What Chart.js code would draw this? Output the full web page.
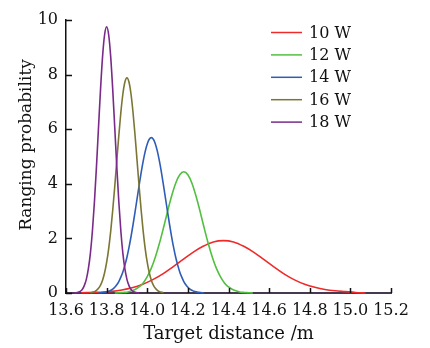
<!DOCTYPE html>
<html><head><meta charset="utf-8">
<script src="https://cdn.jsdelivr.net/npm/chart.js@4.4.1/dist/chart.umd.min.js"></script>
<style>html,body{margin:0;padding:0;background:#fff;}</style>
</head><body>
<canvas id="c" width="430" height="348"></canvas>
<script>
// ---- data ----
const seriesNames = ['10 W', '12 W', '14 W', '16 W', '18 W'];
const xTicks = [13.6, 13.8, 14.0, 14.2, 14.4, 14.6, 14.8, 15.0, 15.2];
const yTicks = [0, 2, 4, 6, 8, 10];

const redX = [13.675,13.725,13.775,13.825,13.875,13.925,13.975,14.025,14.075,14.125,14.175,14.225,14.275,14.325,14.375,14.425,14.475,14.525,14.575,14.625,14.675,14.725,14.775,14.825,14.875,14.925,14.975,15.025,15.075];
const redY = [0.01,0.02,0.03,0.06,0.11,0.19,0.31,0.48,0.69,0.95,1.22,1.49,1.71,1.87,1.92,1.87,1.71,1.49,1.22,0.95,0.69,0.48,0.32,0.21,0.13,0.08,0.05,0.02,0.00];

const greenX = [13.84,13.86,13.88,13.90,13.92,13.94,13.96,13.98,14.00,14.02,14.04,14.06,14.08,14.10,14.12,14.14,14.16,14.18,14.20,14.22,14.24,14.26,14.28,14.30,14.32,14.34,14.36,14.38,14.40,14.42,14.44,14.46,14.48,14.50,14.52];
const greenY = [0.00,0.01,0.02,0.03,0.07,0.13,0.22,0.37,0.60,0.91,1.32,1.82,2.39,2.99,3.55,4.02,4.33,4.44,4.33,4.02,3.55,2.99,2.39,1.82,1.32,0.91,0.60,0.37,0.22,0.13,0.07,0.03,0.02,0.01,0.00];

const blueX = [13.76,13.77,13.78,13.79,13.80,13.81,13.82,13.83,13.84,13.85,13.86,13.87,13.88,13.89,13.90,13.91,13.92,13.93,13.94,13.95,13.96,13.97,13.98,13.99,14.00,14.01,14.02,14.03,14.04,14.05,14.06,14.07,14.08,14.09,14.10,14.11,14.12,14.13,14.14,14.15,14.16,14.17,14.18,14.19,14.20,14.21,14.22,14.23,14.24,14.25,14.26,14.27,14.28];
const blueY = [0.01,0.01,0.02,0.03,0.04,0.06,0.10,0.14,0.21,0.30,0.42,0.58,0.77,1.02,1.31,1.66,2.06,2.50,2.97,3.46,3.94,4.41,4.83,5.19,5.46,5.63,5.69,5.63,5.46,5.19,4.83,4.41,3.94,3.46,2.97,2.50,2.06,1.66,1.31,1.02,0.77,0.58,0.42,0.30,0.21,0.14,0.10,0.06,0.04,0.03,0.02,0.01,0.01];

const oliveX = [13.72,13.73,13.74,13.75,13.76,13.77,13.78,13.79,13.80,13.81,13.82,13.83,13.84,13.85,13.86,13.87,13.88,13.89,13.90,13.91,13.92,13.93,13.94,13.95,13.96,13.97,13.98,13.99,14.00,14.01,14.02,14.03,14.04,14.05,14.06,14.07,14.08];
const oliveY = [0.01,0.03,0.05,0.10,0.17,0.29,0.47,0.74,1.12,1.62,2.26,3.03,3.90,4.84,5.77,6.61,7.29,7.73,7.88,7.73,7.29,6.61,5.77,4.84,3.90,3.03,2.26,1.62,1.12,0.74,0.47,0.29,0.17,0.10,0.05,0.03,0.01];

const purpleX = [13.64,13.65,13.66,13.67,13.68,13.69,13.70,13.71,13.72,13.73,13.74,13.75,13.76,13.77,13.78,13.79,13.80,13.81,13.82,13.83,13.84,13.85,13.86,13.87,13.88,13.89,13.90,13.91,13.92,13.93,13.94,13.95,13.96];
const purpleY = [0.00,0.01,0.03,0.06,0.13,0.27,0.50,0.88,1.45,2.27,3.34,4.63,6.06,7.46,8.66,9.46,9.75,9.46,8.66,7.46,6.06,4.63,3.34,2.27,1.45,0.88,0.50,0.27,0.13,0.06,0.03,0.01,0.00];

const seriesX = [redX, greenX, blueX, oliveX, purpleX];
const seriesY = [redY, greenY, blueY, oliveY, purpleY];
const colors = ['#ee2a2a', '#52bf40', '#2e5db8', '#7c7634', '#7a2a88'];

const FONT = '"DejaVu Serif", serif';

const datasets = seriesNames.map((name, i) => ({
  label: name,
  data: seriesX[i].map((x, j) => ({x: x, y: seriesY[i][j]})),
  borderColor: colors[i],
  backgroundColor: colors[i],
  borderWidth: 1.6,
  pointRadius: 0,
  fill: false,
  cubicInterpolationMode: 'monotone',
  clip: 4,
  order: seriesNames.length - 1 - i
}));

const decor = {
  id: 'decor',
  afterDraw(chart) {
    const ctx = chart.ctx;
    const xs = chart.scales.x, ys = chart.scales.y;
    const a = chart.chartArea;
    ctx.save();
    // inward ticks
    ctx.strokeStyle = '#111';
    ctx.lineWidth = 1.5;
    ctx.beginPath();
    xTicks.forEach(v => {
      const px = Math.round(xs.getPixelForValue(v)) + 0.5;
      ctx.moveTo(px, a.bottom);
      ctx.lineTo(px, a.bottom - 5);
    });
    yTicks.forEach(v => {
      const py = Math.round(ys.getPixelForValue(v)) + 0.5;
      ctx.moveTo(a.left, py);
      ctx.lineTo(a.left + 6, py);
    });
    ctx.stroke();
    // legend
    ctx.font = '16px ' + FONT;
    ctx.textBaseline = 'middle';
    ctx.textAlign = 'left';
    seriesNames.forEach((name, i) => {
      const y = 32.5 + i * 22.4;
      ctx.strokeStyle = colors[i];
      ctx.lineWidth = 1.5;
      ctx.beginPath();
      ctx.moveTo(271, y);
      ctx.lineTo(302, y);
      ctx.stroke();
      ctx.fillStyle = '#111';
      ctx.fillText(name, 309, y + 1);
    });
    // y-axis title
    ctx.font = '17px ' + FONT;
    ctx.translate(27, 145);
    ctx.rotate(-Math.PI / 2);
    ctx.textAlign = 'center';
    ctx.fillText('Ranging probability', 0, 0);
    ctx.restore();
  }
};

new Chart(document.getElementById('c'), {
  type: 'line',
  data: { datasets },
  options: {
    responsive: false,
    animation: false,
    layout: { padding: { top: 20, right: 39, left: 0, bottom: 0 } },
    plugins: { legend: { display: false }, tooltip: { enabled: false } },
    scales: {
      x: {
        type: 'linear', min: 13.6, max: 15.2,
        z: 1,
        afterBuildTicks: s => { s.ticks = xTicks.map(v => ({value: v})); },
        afterFit: s => { s.height = 55; },
        grid: { display: false, drawTicks: false },
        border: { display: true, color: '#46384f', width: 2 },
        ticks: { color: '#111', font: { family: FONT, size: 16 }, padding: 8, maxRotation: 0, autoSkip: false,
                 callback: v => Number(v).toFixed(1) },
        title: { display: true, text: 'Target distance /m', color: '#111', font: { family: FONT, size: 18 }, padding: { top: 0, bottom: 3 } }
      },
      y: {
        type: 'linear', min: 0, max: 10,
        afterBuildTicks: s => { s.ticks = yTicks.map(v => ({value: v})); },
        afterFit: s => { s.width = 66; },
        grid: { display: false, drawTicks: false },
        border: { display: true, color: '#111', width: 1.5 },
        ticks: { color: '#111', font: { family: FONT, size: 16 }, padding: 8 }
      }
    }
  },
  plugins: [decor]
});
</script>
</body></html>
